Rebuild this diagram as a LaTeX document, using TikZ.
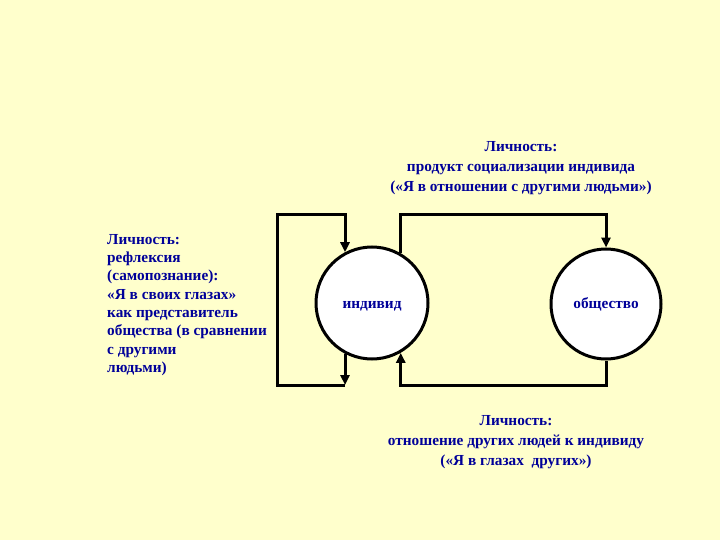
\documentclass[tikz,border=0pt]{standalone}
\usepackage{fontspec}
\setmainfont{Liberation Serif}
\usepackage{xcolor}
\usepackage{tikz}
\usetikzlibrary{arrows.meta,positioning,calc}
\definecolor{slidebg}{HTML}{FFFFCC}
\definecolor{textblue}{HTML}{000099}

\begin{document}
\begin{tikzpicture}[
    x=1pt, y=-1pt,
    label/.style={font=\fontsize{15.3}{19.8}\selectfont\bfseries, text=textblue, inner sep=0pt},
    circ/.style={circle, draw=black, fill=white, line width=3pt, minimum size=112pt, inner sep=0pt, font=\fontsize{15.3}{17}\selectfont\bfseries, text=textblue},
    wire/.style={line width=3pt, draw=black, line join=miter},
    link/.style={wire, -{Triangle[length=10pt, width=9pt]}}
]
    % Background
    \fill[slidebg] (0,0) rectangle (720,540);
    \useasboundingbox (0,0) rectangle (720,540);

    % Circles
    \node[circ] (IND) at (372,303) {\raisebox{-5pt}[0pt][0pt]{индивид}};
    \node[circ, minimum size=110pt] (SOC) at (606,304) {\raisebox{-4.5pt}[0pt][0pt]{общество}};

    % Loop corners
    \coordinate (LT) at (277,215);
    \coordinate (LB) at (277,385);

    % Left loop
    \draw[link] (IND.242) -- (IND.242 |- LB);
    \draw[link] (IND.242 |- LB) -| (LT) -| (IND.118);

    % Top and bottom loops
    \draw[link] (IND.60) |- (SOC.north |- LT) -- (SOC.north);
    \draw[link] (SOC.south) |- (IND.300 |- LB) -- (IND.300);

    % Labels
    \node[label, align=center] (TOP) at (521,168) {
        Личность:\\
        продукт социализации индивида\\
        («Я в отношении с другими людьми»)
    };
    \node[label, align=left, anchor=north west, font=\fontsize{15.3}{18.3}\selectfont\bfseries] (LEFT) at (107,234) {
        Личность:\\
        рефлексия\\
        (самопознание):\\
        «Я в своих глазах»\\
        как представитель\\
        общества (в сравнении\\
        с другими\\
        людьми)
    };
    \node[label, align=center] (BOT) at (516,442) {
        Личность:\\
        отношение других людей к индивиду\\
        («Я в глазах\ \ других»)
    };
\end{tikzpicture}
\end{document}
